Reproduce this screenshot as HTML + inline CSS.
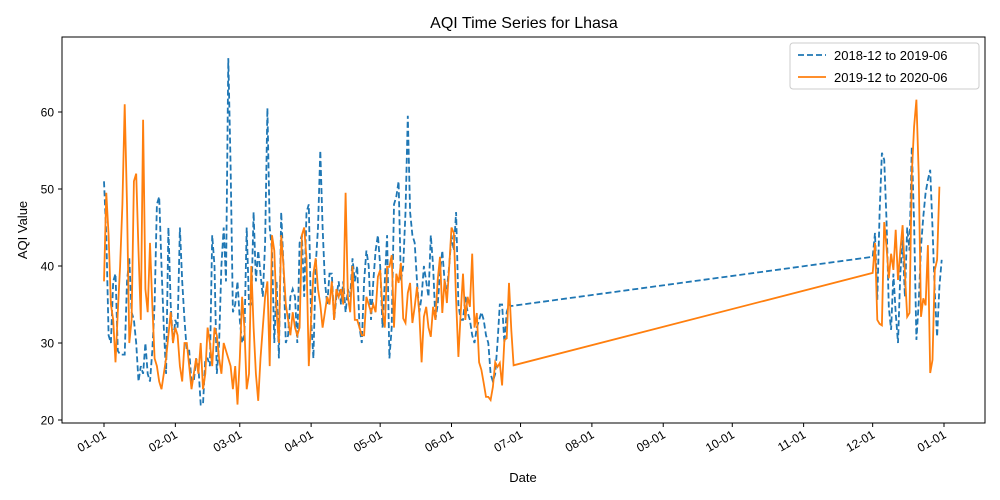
<!DOCTYPE html>
<html><head><meta charset="utf-8"><style>
body{margin:0;background:#fff;}
svg{display:block;font-family:"Liberation Sans","DejaVu Sans",sans-serif;}
</style></head><body>
<svg id="chart" width="1000" height="500" viewBox="0 0 1000 500" xmlns="http://www.w3.org/2000/svg">
<rect width="1000" height="500" fill="#fff"/>
<text x="524" y="28" font-size="16" text-anchor="middle">AQI Time Series for Lhasa</text>
<text transform="translate(27,230) rotate(-90)" font-size="13" text-anchor="middle">AQI Value</text>
<text x="523" y="482" font-size="13" text-anchor="middle">Date</text>
<g id="grid"></g>
<g id="series"></g>
<rect x="62" y="37" width="923" height="386" fill="none" stroke="#000" stroke-width="1"/>
<g>
<rect x="790" y="43" width="189" height="46" fill="#fff" stroke="#ccc" rx="3"/>
<line x1="798" y1="55" x2="826" y2="55" stroke="#1f77b4" stroke-width="1.8" stroke-dasharray="6,3"/>
<text x="834" y="60" font-size="13">2018-12 to 2019-06</text>
<line x1="798" y1="77" x2="826" y2="77" stroke="#ff7f0e" stroke-width="1.8"/>
<text x="834" y="82" font-size="13">2019-12 to 2020-06</text>
</g>
</svg>
<script>
const tickLabels = ["01-01","02-01","03-01","04-01","05-01","06-01","07-01","08-01","09-01","10-01","11-01","12-01","01-01"];
const tickDays = [0,31,59,90,120,151,181,212,243,273,304,334,365];
const yTicks = [20,30,40,50,60];
// Blue: daily values from Jan 1 (2019), and Dec 1 (2018)
const blueSpring = [51,44,31,30,38,39,29,28.5,28.5,28.5,38,41,34,33,30,25,27,26,30,26,25,29,35,48,49,40,32,26,45,35,30,33,32,45,38,33,29,29,25,25,28,27,22,22,28,28,27,44,40,26,30,40,45,38,
67,53,34,35,38,33,30,31,45,35,35,47,38,42,39,36,43,60.5,45,42,30,38,28,47,40,30,31,36,37,36,30,43,44,36,47,48,33,28,40,45,55,45,38,35,39,39,33,36,38,35,38,34,37,36,41,38,40,32,30,38,42,40,33,38,42,44,40,32,38,44,28,32,48,49,51,38,40,47,
59.5,47,44,43,38,34,36,40,38,36,44,40,33,35,39,42,38,37,40,44,42,47,35,33,33,36,34,33,31,30,32,33,34,33,31,30,26,25,26,30,35,35,30,34,35,34.8];
const blueDec = [41.2,44.3,35.6,46.9,54.7,53.8,46,34.7,31.7,39,33.9,30,39,43.4,36,45,42,55.5,45.6,30.4,35.2,42.5,46.4,49.5,51.2,52.5,45,36.5,30.8,37.3,40.8];
// Orange: daily values from Jan 1 (2020), and Dec 1 (2019)
const orangeSpring = [38,49.5,44,35,33,27.5,34,40,48,61,48,30,33,51,52,42,33,59,37,34,43,35,28,27,25,24,26,28,31,34,30,32,31,27,25,30,30,27,24,26,28,26,30,24,26,32,30,27,32,31,28,26,30,29,28,27,24,27,22,28,36,32,24,26,40,32,26,22.5,28,32,36,38,27,44,42,34,30,44,40,35,33,31,34,32,31,32,44,45,41,27,33,39,41,37,35,32,34,36,35,38,33,37,36,37,35,49.5,36,34,40,33,33,32,31,31,36,35,34,35,34,
38.6,39.5,34.3,32,39.9,39.9,41.4,32,39,37.8,40.4,33.2,32.6,36.5,37.8,32.6,34.7,37.3,33.9,27.5,33.4,34.7,32,30.8,34.7,33,38.2,41.2,33.9,38.2,35.2,39.9,45,44.3,35.6,28.2,33.9,39,33,36,34.7,41.6,32,33.9,27.5,26.5,24.8,23,23,22.6,24.3,27.5,26.9,27.4,24.5,30.4,30.6,37.8,31.7,27.1];
const orangeDec = [39.1,43,33,32.5,32.3,45.7,42.5,38.4,41.6,39.5,44.7,38.2,42,45.3,39.1,33.4,33.9,52,58.1,61.6,52,33.4,35.8,34.9,42.7,26.1,27.8,39.5,40.8,50.3];
const decStart = 334;

const NS="http://www.w3.org/2000/svg";
const xScale = d => 104 + d*(944-104)/365;
const yScale = v => 420 - (v-20)*7.7;
const grid = document.getElementById('grid');
const series = document.getElementById('series');

tickDays.forEach((d,i)=>{
  const x = xScale(d);
  const t = document.createElementNS(NS,'line');
  t.setAttribute('x1',x);t.setAttribute('x2',x);t.setAttribute('y1',423);t.setAttribute('y2',427);t.setAttribute('stroke','#000');
  
  
  grid.appendChild(t);
  const l = document.createElementNS(NS,'text');
  l.setAttribute('transform',`translate(${x+3},${437}) rotate(-30)`);
  l.setAttribute('text-anchor','end');l.setAttribute('font-size','12');
  l.textContent = tickLabels[i];
  
  
  grid.appendChild(l);
});
yTicks.forEach(v=>{
  const y = yScale(v);
  const t = document.createElementNS(NS,'line');
  t.setAttribute('x1',58);t.setAttribute('x2',62);t.setAttribute('y1',y);t.setAttribute('y2',y);t.setAttribute('stroke','#000');
  
  
  grid.appendChild(t);
  const l = document.createElementNS(NS,'text');
  l.setAttribute('x',54);l.setAttribute('y',y+4.5);l.setAttribute('text-anchor','end');l.setAttribute('font-size','12');
  l.textContent = v;
  
  
  grid.appendChild(l);
});

function pts(spring, dec){
  const p=[];
  spring.forEach((v,i)=>p.push([xScale(i),yScale(v)]));
  dec.forEach((v,i)=>p.push([xScale(decStart+i),yScale(v)]));
  return p.map(q=>q[0].toFixed(1)+','+q[1].toFixed(1)).join(' ');
}
const pb = document.createElementNS(NS,'polyline');
pb.setAttribute('points',pts(blueSpring,blueDec));
pb.setAttribute('fill','none');pb.setAttribute('stroke','#1f77b4');pb.setAttribute('stroke-width','1.8');pb.setAttribute('stroke-dasharray','6,3');


series.appendChild(pb);
const po = document.createElementNS(NS,'polyline');
po.setAttribute('points',pts(orangeSpring,orangeDec));
po.setAttribute('fill','none');po.setAttribute('stroke','#ff7f0e');po.setAttribute('stroke-width','1.8');


series.appendChild(po);
</script>
</body></html>
